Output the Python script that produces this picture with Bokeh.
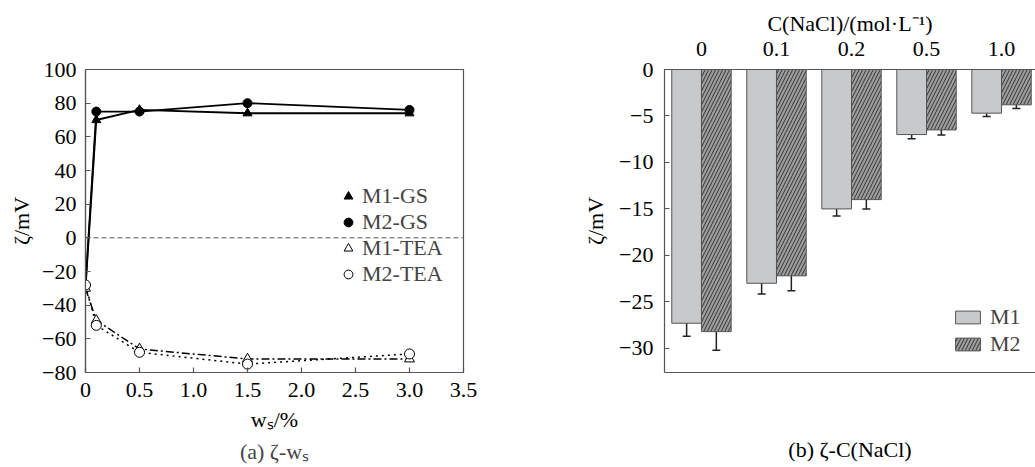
from bokeh.plotting import figure
from bokeh.models import (ColumnDataSource, Range1d, FixedTicker, LinearAxis, Span,
                          Whisker, TeeHead, Legend, LegendItem, Title)
from bokeh.transform import dodge
from bokeh.layouts import row
from bokeh.embed import file_html
from bokeh.resources import INLINE

FONT = "Liberation Serif"
FS = "22px"
AX = "#555555"

# ---------------- (a) zeta vs w_s ----------------
ws = [0, 0.1, 0.5, 1.5, 3.0]
m1_gs = [-30, 70, 76, 74, 74]
m2_gs = [-28, 75, 75, 80, 76]
m1_tea = [-30, -49, -66, -72, -72]
m2_tea = [-28, -52, -68, -75, -69]
x_ticks_a = [0, 0.5, 1.0, 1.5, 2.0, 2.5, 3.0, 3.5]
x_labels_a = ["0", "0.5", "1.0", "1.5", "2.0", "2.5", "3.0", "3.5"]
y_ticks_a = [-80, -60, -40, -20, 0, 20, 40, 60, 80, 100]
y_labels_a = ["\u221280", "\u221260", "\u221240", "\u221220", "0", "20", "40", "60", "80", "100"]

# ---------------- (b) zeta vs C(NaCl) ----------------
cats = ["0", "0.1", "0.2", "0.5", "1.0"]
m1_bar = [-27.3, -23.0, -15.0, -7.0, -4.7]
m2_bar = [-28.2, -22.2, -14.0, -6.5, -3.8]
m1_err = [1.4, 1.15, 0.75, 0.45, 0.36]
m2_err = [2.0, 1.6, 1.0, 0.55, 0.4]
y_ticks_b = [-30, -25, -20, -15, -10, -5, 0]
y_labels_b = ["\u221230", "\u221225", "\u221220", "\u221215", "\u221210", "\u22125", "0"]


def style_axis(ax):
    ax.major_label_text_font = FONT
    ax.major_label_text_font_size = FS
    ax.major_label_text_color = "black"
    ax.axis_label_text_font = FONT
    ax.axis_label_text_font_size = FS
    ax.axis_label_text_font_style = "normal"
    ax.axis_label_text_color = "black"
    ax.axis_line_color = AX
    ax.axis_line_width = 1.2
    ax.major_tick_line_color = AX
    ax.major_tick_line_width = 1.2
    ax.minor_tick_line_color = None
    ax.major_tick_in = 5
    ax.major_tick_out = 0


p1 = figure(width=520, height=467, x_range=Range1d(0, 3.5), y_range=Range1d(-80, 100),
            output_backend="svg", toolbar_location=None,
            min_border_left=85, min_border_right=57, min_border_top=68, min_border_bottom=95)
p1.grid.visible = False
p1.outline_line_color = AX
p1.outline_line_width = 1.2
p1.background_fill_color = "white"
p1.border_fill_color = "white"

for ax in p1.xaxis + p1.yaxis:
    style_axis(ax)
p1.xaxis.ticker = FixedTicker(ticks=x_ticks_a)
p1.xaxis.major_label_overrides = dict(zip(x_ticks_a, x_labels_a))
p1.yaxis.ticker = FixedTicker(ticks=y_ticks_a)
p1.yaxis.major_label_overrides = dict(zip(y_ticks_a, y_labels_a))
p1.xaxis.major_label_standoff = 10
p1.yaxis.major_label_standoff = 9
p1.xaxis.axis_label = "w\u209b/%"
p1.xaxis.axis_label_standoff = 7
p1.yaxis.axis_label = "\u03b6/mV"
p1.yaxis.axis_label_standoff = 5

p1.add_layout(Span(location=0, dimension="width", line_color=AX, line_width=1,
                   line_dash="5 3"))

p1.line(ws, m1_gs, line_color="black", line_width=1.8)
p1.line(ws, m2_gs, line_color="black", line_width=1.8)
p1.line(ws, m1_tea, line_color="black", line_width=1.5, line_dash="8 3 2 3")
p1.line(ws, m2_tea, line_color="black", line_width=1.5, line_dash="2 4")

r1 = p1.scatter(ws[1:], m1_gs[1:], marker="triangle", size=9, color="black")
r2 = p1.scatter(ws[1:], m2_gs[1:], marker="circle", size=9, color="black")
r3 = p1.scatter(ws, m1_tea, marker="triangle", size=10, fill_color="white",
                line_color="black", line_width=1)
r4 = p1.scatter(ws, m2_tea, marker="circle", size=10, fill_color="white",
                line_color="black", line_width=1)

leg1 = Legend(items=[LegendItem(label="M1-GS", renderers=[r1]),
                     LegendItem(label="M2-GS", renderers=[r2]),
                     LegendItem(label="M1-TEA", renderers=[r3]),
                     LegendItem(label="M2-TEA", renderers=[r4])],
              location=(252, 85), glyph_width=22, glyph_height=22, label_height=24,
              spacing=0, padding=0, margin=0, label_standoff=3,
              label_text_font=FONT, label_text_font_size=FS,
              border_line_color=None, background_fill_alpha=0)
p1.add_layout(leg1)
p1.add_layout(Title(text="(a) \u03b6-w\u209b", align="center", text_font=FONT,
                    text_font_size=FS, text_font_style="normal", standoff=5),
              "below")

# ---------------- right figure ----------------
src = ColumnDataSource(dict(
    xi=list(range(len(cats))),
    m1=m1_bar, m2=m2_bar,
    m1_lo=[v - e for v, e in zip(m1_bar, m1_err)],
    m1_hi=[v + e for v, e in zip(m1_bar, m1_err)],
    m2_lo=[v - e for v, e in zip(m2_bar, m2_err)],
    m2_hi=[v + e for v, e in zip(m2_bar, m2_err)],
))

p2 = figure(width=515, height=467, x_range=Range1d(-0.493, 4.453), y_range=Range1d(-32.6, 0),
            x_axis_location="above", output_backend="svg", toolbar_location=None,
            min_border_left=144, min_border_right=0, min_border_top=69, min_border_bottom=95)
p2.grid.visible = False
p2.outline_line_color = None
p2.background_fill_color = "white"
p2.border_fill_color = "white"

for ax in p2.xaxis + p2.yaxis:
    style_axis(ax)
p2.xaxis.ticker = FixedTicker(ticks=list(range(len(cats))))
p2.xaxis.major_label_overrides = dict(zip(range(len(cats)), cats))
p2.xaxis.major_tick_in = 0
p2.xaxis.major_tick_out = 0
p2.xaxis.major_label_standoff = 14
p2.xaxis.axis_label = "C(NaCl)/(mol\u00b7L\u207b\u00b9)"
p2.xaxis.axis_label_standoff = 3
p2.yaxis.ticker = FixedTicker(ticks=y_ticks_b)
p2.yaxis.major_label_overrides = dict(zip(y_ticks_b, y_labels_b))
p2.yaxis.major_label_standoff = 11
p2.yaxis.axis_label = "\u03b6/mV"
p2.yaxis.axis_label_standoff = 8

bottom_axis = LinearAxis(ticker=FixedTicker(ticks=[]), axis_line_color=AX,
                         axis_line_width=1.2, major_label_text_font_size="0px",
                         major_tick_line_color=None, minor_tick_line_color=None,
                         axis_label="(b) \u03b6-C(NaCl)", axis_label_standoff=64,
                         axis_label_text_font=FONT, axis_label_text_font_size=FS,
                         axis_label_text_font_style="normal", axis_label_text_color="black")
p2.add_layout(bottom_axis, "below")

b1 = p2.vbar(x=dodge("xi", -0.198, range=p2.x_range), top="m1", bottom=0, width=0.396,
             source=src, fill_color="#c8c9cb", line_color=AX, line_width=1)
b2 = p2.vbar(x=dodge("xi", 0.198, range=p2.x_range), top="m2", bottom=0, width=0.396,
             source=src, fill_color="#9d9d9d", line_color=AX, line_width=1,
             hatch_pattern="/", hatch_color="#333333", hatch_scale=7, hatch_weight=1)

for off, lo, hi in [(-0.198, "m1_lo", "m1_hi"), (0.198, "m2_lo", "m2_hi")]:
    w = Whisker(source=src, base=dodge("xi", off, range=p2.x_range), lower=lo, upper=hi,
                line_color="#222222", line_width=1.5,
                upper_head=TeeHead(size=8, line_color="#222222", line_width=1.5),
                lower_head=TeeHead(size=8, line_color="#222222", line_width=1.5))
    p2.add_layout(w)

leg2 = Legend(items=[LegendItem(label="M1", renderers=[b1]),
                     LegendItem(label="M2", renderers=[b2])],
              location=(288, 15), glyph_width=31, glyph_height=16, label_height=16,
              spacing=1, padding=0, margin=0, label_standoff=7,
              label_text_font=FONT, label_text_font_size=FS,
              border_line_color=None, background_fill_alpha=0)
p2.add_layout(leg2)

layout = row(p1, p2)
open("out.html", "w").write(file_html(layout, INLINE))
